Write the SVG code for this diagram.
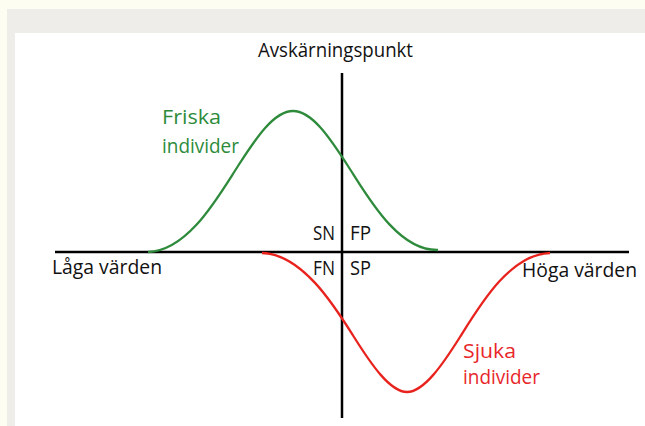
<svg xmlns="http://www.w3.org/2000/svg" width="645" height="426" viewBox="0 0 645 426">
<style>
text{font-family:"Open Sans","Liberation Sans",sans-serif;font-size:19.5px;}
.k{fill:#111;}
.g{fill:#2e8b3c;}
.r{fill:#e8262a;}
.ax{stroke:#000;stroke-width:2.5;fill:none;}
.cg{stroke:#2e8b3c;stroke-width:2.3;fill:none;}
.cr{stroke:#e8231e;stroke-width:2.3;fill:none;}
</style>
<rect x="0" y="0" width="645" height="426" fill="#fefdf2"/>
<rect x="7" y="9" width="638" height="417" fill="#efedea"/>
<rect x="15" y="33" width="630" height="393" fill="#ffffff"/>
<g id="axes">
<line class="ax" x1="55" y1="252" x2="629" y2="252"/>
<line class="ax" x1="342" y1="73" x2="342" y2="418"/>
</g>
<g id="friska">
<path class="cg" d="M148,252 C188,251 218,197 238,166 C256,138 274,111 293,111 C312,111 330,138 348,166 C368,197 398,251 438,250"/>
<text class="g" x="162" y="124" textLength="59" lengthAdjust="spacingAndGlyphs">Friska</text>
<text class="g" x="162" y="153" textLength="77" lengthAdjust="spacingAndGlyphs">individer</text>
</g>
<g id="sjuka">
<path class="cr" d="M262,253 C302,254 334,305 354,337 C371,364 390,392 407,392 C424,392 443,364 460,337 C480,305 510,254 550,253"/>
<text class="r" x="463" y="358" textLength="53" lengthAdjust="spacingAndGlyphs">Sjuka</text>
<text class="r" x="463" y="384" textLength="77" lengthAdjust="spacingAndGlyphs">individer</text>
</g>
<g id="labels">
<text class="k" x="258" y="57" textLength="155" lengthAdjust="spacingAndGlyphs">Avskärningspunkt</text>
<text class="k" x="313" y="240" textLength="22" lengthAdjust="spacingAndGlyphs">SN</text>
<text class="k" x="350" y="240" textLength="21" lengthAdjust="spacingAndGlyphs">FP</text>
<text class="k" x="313" y="275" textLength="22" lengthAdjust="spacingAndGlyphs">FN</text>
<text class="k" x="350" y="275" textLength="21" lengthAdjust="spacingAndGlyphs">SP</text>
<text class="k" x="52" y="274" textLength="110" lengthAdjust="spacingAndGlyphs">Låga värden</text>
<text class="k" x="522" y="277" textLength="115" lengthAdjust="spacingAndGlyphs">Höga värden</text>
</g>
</svg>
